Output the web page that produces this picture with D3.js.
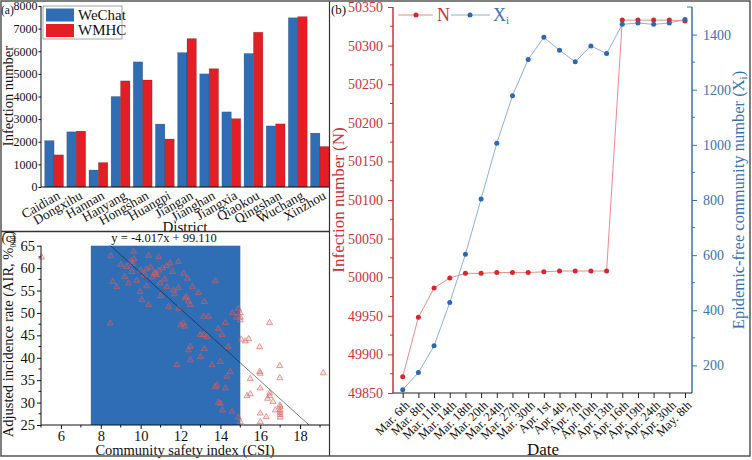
<!DOCTYPE html>
<html><head><meta charset="utf-8">
<script src="https://cdn.jsdelivr.net/npm/d3@7"></script>
<style>
body{margin:0;background:#fff}
svg{display:block}
text{font-family:"Liberation Serif","Times New Roman",serif}
</style>
</head><body>
<svg id="chart" width="752" height="460"></svg>
<script>
// ---------- DATA ----------
const districts = ["Caidian","Dongxihu","Hannan","Hanyang","Hongshan","Huangpi","Jiangan","Jianghan","Jiangxia","Qiaokou","Qingshan","Wuchang","Xinzhou"];
const wechat = [2050, 2440, 750, 4000, 5530, 2780, 5940, 5000, 3320, 5900, 2700, 7480, 2380];
const wmhc   = [1420, 2470, 1080, 4690, 4730, 2120, 6560, 5230, 3020, 6840, 2790, 7530, 1790];
const barTicks = [0,1000,2000,3000,4000,5000,6000,7000,8000];

const dates = ["Mar. 6th","Mar. 8th","Mar. 11th","Mar. 14th","Mar. 18th","Mar. 20th","Mar. 24th","Mar. 27th","Mar. 30th","Apr. 1st","Apr. 4th","Apr. 7th","Apr. 10th","Apr. 13th","Apr. 16th","Apr. 19th","Apr. 24th","Apr. 30th","May. 8th"];
const nValues  = [49871, 49948, 49986, 49999, 50005, 50005, 50006, 50006, 50006, 50007, 50008, 50008, 50008, 50008, 50333, 50333, 50333, 50333, 50332];
const xiValues = [112, 174, 271, 428, 603, 804, 1006, 1178, 1310, 1390, 1343, 1301, 1359, 1331, 1437, 1442, 1437, 1442, 1455];
const nTicks  = [49850,49900,49950,50000,50050,50100,50150,50200,50250,50300,50350];
const xiTicks = [200,400,600,800,1000,1200,1400];

const csi = [8.5,9.64,9.67,9.5,9.3,9.56,9.2,8.8,9.39,9.97,10.06,10.4,10.9,10.5,10.7,10.73,10.8,10.6,10.9,11.1,10.3,10.0,10.2,11.48,11.9,11.3,11.6,10.98,11.32,11.65,11.9,11.7,12.24,12.4,11.9,11.4,12.15,12.35,13.74,12.3,12.49,8.47,12.15,12.0,12.2,13.16,13.4,14.25,14.9,13.33,12.99,14.08,13.16,12.49,12.4,12.5,11.82,13.0,13.58,14.0,14.5,14.33,13.83,14.25,14.0,14.58,14.9,14.1,13.74,13.9,9.0,9.8,10.3,11.0,12.6,12.9,13.2,8.6,9.6,10.4,11.2,14.6,14.8,13.9,14.4,13.2,
  5.03,15.0,15.0,15.0,16.47,15.05,15.25,15.42,15.97,15.97,16.0,16.98,16.98,19.16,15.5,16.0,15.34,15.5,16.47,16.47,16.37,16.64,16.76,16.98,17.0,17.0,17.0,17.0,17.0,16.0,16.3,16.0,15.0];
const air = [62.7,63.7,62.0,61.5,60.3,59.2,58.1,55.8,56.6,54.7,52.9,51.8,62.5,60.2,59.0,58.8,58.5,58.0,59.5,60.0,59.8,59.5,58.5,61.1,61.4,60.5,59.2,56.6,55.8,55.1,55.6,54.2,53.3,52.6,51.0,51.4,58.8,57.7,57.1,53.6,51.8,47.7,47.7,47.3,47.0,49.2,49.2,47.8,51.0,44.7,45.1,45.1,45.1,42.5,41.7,39.5,38.4,40.2,38.4,39.1,36.9,35.8,33.9,33.2,29.8,28.0,26.7,28.3,33.5,30.0,60.8,57.2,56.0,53.8,55.8,54.5,52.5,57.0,61.0,62.8,57.5,50.0,49.0,46.5,42.5,42.0,
  62.4,48.4,50.0,49.0,47.8,44.1,43.7,44.2,42.4,36.9,36.5,38.2,35.5,36.6,35.3,33.2,31.5,31.9,32.1,31.5,30.9,30.2,28.3,29.4,29.0,28.3,27.8,27.3,26.7,27.6,26.8,25.7,25.7];
const cTicksX = [6,8,10,12,14,16,18];
const cTicksY = [25,30,35,40,45,50,55,60,65];
const safeRange = [7.5, 15];
const regSlope = -4.017, regIntercept = 99.110;

// ---------- STYLE ----------
const BLUE = "#2f6db5", RED = "#e31e24";
const NRED = "#d9262c", NLINE = "#ec8a8c", XBLUE = "#2e68ae", XLINE = "#8eb0d8";
const AXRED = "#c8333a", AXBLUE = "#3a72b0";
const svg = d3.select("#chart");
svg.append("rect").attr("width",752).attr("height",460).attr("fill","#fff");

function styleAxis(g, color, fs){
  g.selectAll("path.domain").remove();
  g.selectAll("line").attr("stroke", color).attr("stroke-width", 1);
  g.selectAll("text").attr("fill", color).attr("font-size", fs)
   .style("font-family", '"Liberation Serif","Times New Roman",serif');
}

// ---------- PANEL A ----------
const gA = svg.append("g");
const xA = d3.scaleBand().domain(districts).range([44,330]).paddingInner(0.15).paddingOuter(0.03);
const keys = ["WeChat","WMHC"];
const xA2 = d3.scaleBand().domain(keys).range([0, xA.bandwidth()]);
const yA = d3.scaleLinear().domain([0,8000]).range([187,6]);
const seriesA = [{k:"WeChat", v:wechat, c:BLUE},{k:"WMHC", v:wmhc, c:RED}];
seriesA.forEach(s=>{
  gA.append("g").selectAll("rect").data(districts).join("rect")
    .attr("x", d=>xA(d)+xA2(s.k)).attr("y",(d,i)=>yA(s.v[i]))
    .attr("width", xA2.bandwidth()).attr("height",(d,i)=>yA(0)-yA(s.v[i]))
    .attr("fill", s.c).attr("stroke","rgba(0,0,0,0.3)").attr("stroke-width",0.5);
});
const ayA = gA.append("g").attr("transform","translate(41,0)")
  .call(d3.axisLeft(yA).tickValues(barTicks).tickSize(2.5).tickPadding(1).tickFormat(d3.format("d")));
styleAxis(ayA, "#111", 12);
gA.append("line").attr("x1",41).attr("x2",41).attr("y1",yA(8000)).attr("y2",yA(0)).attr("stroke","#111");
gA.append("line").attr("x1",41).attr("x2",330).attr("y1",yA(0)).attr("y2",yA(0)).attr("stroke","#111");
const axA = gA.append("g").attr("transform",`translate(0,${yA(0)})`)
  .call(d3.axisBottom(xA).tickSize(0).tickPadding(0));
styleAxis(axA, "#111", 13.5);
axA.selectAll("text").attr("y",0).attr("dy",0).attr("text-anchor","end")
  .attr("transform","translate(7,11) rotate(-30)");
gA.append("text").attr("x",185).attr("y",232).attr("text-anchor","middle").attr("font-size",15).attr("fill","#111").text("District");
gA.append("text").attr("transform","translate(13,96) rotate(-90)").attr("text-anchor","middle").attr("font-size",14.5).attr("fill","#111").text("Infection number");
gA.append("text").attr("x",1).attr("y",14).attr("font-size",11.5).attr("fill","#111").text("(a)");
// legend
const lgA = gA.append("g");
lgA.append("rect").attr("x",43).attr("y",6).attr("width",79).attr("height",33).attr("fill","#fff").attr("stroke","#666").attr("stroke-width",0.6);
seriesA.forEach((s,i)=>{
  lgA.append("rect").attr("x",46).attr("y",8.5+i*15.5).attr("width",28).attr("height",13).attr("fill",s.c);
  lgA.append("text").attr("x",78).attr("y",19.5+i*15.5).attr("font-size",15).attr("fill","#111").text(s.k);
});

// ---------- PANEL C ----------
const gC = svg.append("g");
gC.append("rect").attr("x",0).attr("y",231).attr("width",330).attr("height",229).attr("fill","#fff");
const xC = d3.scaleLinear().domain([5,19.45]).range([41,329]);
const yC = d3.scaleLinear().domain([25,65]).range([425,245.7]);
gC.append("rect").attr("x",xC(safeRange[0])).attr("y",yC(65)).attr("width",xC(safeRange[1])-xC(safeRange[0])).attr("height",yC(25)-yC(65)).attr("fill","#2f6db5");
const tri = d3.symbol().type(d3.symbolTriangle).size(16);
gC.append("g").selectAll("path").data(csi).join("path")
  .attr("d", tri).attr("transform",(d,i)=>`translate(${xC(d)},${yC(air[i])})`)
  .attr("fill","rgba(226,96,96,0.18)").attr("stroke","rgba(222,92,92,0.75)").attr("stroke-width",0.8);
const x1r = (65-regIntercept)/regSlope, x2r = (25-regIntercept)/regSlope;
gC.append("line").attr("x1",xC(x1r)).attr("y1",yC(regSlope*x1r+regIntercept))
  .attr("x2",xC(x2r)).attr("y2",yC(regSlope*x2r+regIntercept))
  .attr("stroke","rgba(20,20,40,0.55)").attr("stroke-width",1);
const ayC = gC.append("g").attr("transform","translate(41,0)")
  .call(d3.axisLeft(yC).tickValues(cTicksY).tickSize(4).tickPadding(2));
styleAxis(ayC,"#111",14.5);
ayC.selectAll(".minor").data(d3.range(27.5,65,5)).join("line").attr("class","minor")
  .attr("x1",-2.5).attr("x2",0).attr("y1",d=>yC(d)).attr("y2",d=>yC(d)).attr("stroke","#111");
const axC = gC.append("g").attr("transform","translate(0,425)")
  .call(d3.axisBottom(xC).tickValues(cTicksX).tickSize(4).tickPadding(1.5));
styleAxis(axC,"#111",14.5);
axC.selectAll(".minor").data([5,7,9,11,13,15,17,19]).join("line").attr("class","minor")
  .attr("x1",d=>xC(d)).attr("x2",d=>xC(d)).attr("y1",0).attr("y2",2.5).attr("stroke","#111");
gC.append("line").attr("x1",41).attr("x2",41).attr("y1",yC(65)).attr("y2",425).attr("stroke","#111");
gC.append("line").attr("x1",41).attr("x2",329).attr("y1",425).attr("y2",425).attr("stroke","#111");
gC.append("text").attr("x",164).attr("y",242).attr("text-anchor","middle").attr("font-size",12.5).attr("fill","#111").text("y = -4.017x + 99.110");
gC.append("text").attr("x",185).attr("y",454.5).attr("text-anchor","middle").attr("font-size",14.5).attr("fill","#111").text("Community safety index (CSI)");
const ylC = gC.append("text").attr("transform","translate(13,334) rotate(-90)").attr("text-anchor","middle").attr("font-size",14.5).attr("fill","#111");
ylC.append("tspan").text("Adjusted incidence rate (AIR, %");
ylC.append("tspan").attr("font-size",8).attr("dy",3).text("000");
ylC.append("tspan").attr("dy",-3).text(")");
gC.append("text").attr("x",1.5).attr("y",242).attr("font-size",13).attr("fill","#111").text("(c)");

// ---------- PANEL B ----------
const gB = svg.append("g");
const xB = d3.scalePoint().domain(dates).range([402.7,685]);
const yN = d3.scaleLinear().domain([49850,50350]).range([393,7]);
const yX = d3.scaleLinear().domain([100,1500]).range([393,7]);
gB.append("path").datum(dates).attr("fill","none").attr("stroke",XLINE).attr("stroke-width",1)
  .attr("d", d3.line().x(d=>xB(d)).y((d,i)=>yX(xiValues[i])));
gB.append("path").datum(dates).attr("fill","none").attr("stroke",NLINE).attr("stroke-width",1)
  .attr("d", d3.line().x(d=>xB(d)).y((d,i)=>yN(nValues[i])));
gB.append("g").selectAll("circle").data(dates).join("circle")
  .attr("cx",d=>xB(d)).attr("cy",(d,i)=>yN(nValues[i])).attr("r",2.5).attr("fill",NRED);
gB.append("g").selectAll("circle").data(dates).join("circle")
  .attr("cx",d=>xB(d)).attr("cy",(d,i)=>yX(xiValues[i])).attr("r",2.5).attr("fill",XBLUE);
// left axis
const ayN = gB.append("g").attr("transform","translate(393,0)")
  .call(d3.axisLeft(yN).tickValues(nTicks).tickSize(5).tickPadding(5).tickFormat(d3.format("d")));
styleAxis(ayN, AXRED, 14);
ayN.selectAll(".minor").data(d3.range(49875,50350,50)).join("line").attr("class","minor")
  .attr("x1",-3).attr("x2",0).attr("y1",d=>yN(d)).attr("y2",d=>yN(d)).attr("stroke",AXRED);
gB.append("line").attr("x1",393).attr("x2",393).attr("y1",7).attr("y2",393).attr("stroke",AXRED).attr("stroke-width",1.5);
// right axis
const ayX = gB.append("g").attr("transform","translate(692,0)")
  .call(d3.axisRight(yX).tickValues(xiTicks).tickSize(5).tickPadding(6).tickFormat(d3.format("d")));
styleAxis(ayX, AXBLUE, 14);
ayX.selectAll(".minor").data(d3.range(300,1500,200)).join("line").attr("class","minor")
  .attr("x1",0).attr("x2",3).attr("y1",d=>yX(d)).attr("y2",d=>yX(d)).attr("stroke",AXBLUE);
gB.append("line").attr("x1",692).attr("x2",692).attr("y1",7).attr("y2",393).attr("stroke",AXBLUE).attr("stroke-width",1.5);
gB.append("line").attr("x1",687).attr("x2",692).attr("y1",7).attr("y2",7).attr("stroke",AXBLUE);
// bottom axis
const axB = gB.append("g").attr("transform","translate(0,393)")
  .call(d3.axisBottom(xB).tickSize(5).tickPadding(0));
styleAxis(axB, "#222", 12.5);
axB.selectAll("text").attr("y",0).attr("dy",0).attr("text-anchor","end").attr("fill","#111")
  .attr("transform","translate(7,13) rotate(-45)");
gB.append("line").attr("x1",393).attr("x2",692).attr("y1",393).attr("y2",393).attr("stroke","#222").attr("stroke-width",1.2);
gB.append("text").attr("x",543).attr("y",455).attr("text-anchor","middle").attr("font-size",17).attr("fill","#111").text("Date");
gB.append("text").attr("transform","translate(344,200) rotate(-90)").attr("text-anchor","middle").attr("font-size",17).attr("fill",AXRED).text("Infection number (N)");
const ylX = gB.append("text").attr("transform","translate(744,200) rotate(-90)").attr("text-anchor","middle").attr("font-size",16.5).attr("fill",AXBLUE);
ylX.append("tspan").text("Epidemic-free community number (X");
ylX.append("tspan").attr("font-size",11).attr("dy",3).text("i");
ylX.append("tspan").attr("dy",-3).text(")");
gB.append("text").attr("x",331).attr("y",14).attr("font-size",13).attr("fill","#111").text("(b)");
// legend
const lgB = gB.append("g");
lgB.append("line").attr("x1",398).attr("x2",433).attr("y1",15).attr("y2",15).attr("stroke",NLINE);
lgB.append("circle").attr("cx",416).attr("cy",15).attr("r",2.5).attr("fill",NRED);
lgB.append("text").attr("x",437).attr("y",21).attr("font-size",18).attr("fill",AXRED).text("N");
lgB.append("line").attr("x1",451).attr("x2",490).attr("y1",15).attr("y2",15).attr("stroke",XLINE);
lgB.append("circle").attr("cx",470).attr("cy",15).attr("r",2.5).attr("fill",XBLUE);
const lx = lgB.append("text").attr("x",493).attr("y",21).attr("font-size",18).attr("fill",AXBLUE);
lx.append("tspan").text("X");
lx.append("tspan").attr("font-size",11).attr("dy",3).text("i");

// ---------- FRAME ----------
svg.append("line").attr("x1",1).attr("x2",330).attr("y1",231.5).attr("y2",231.5).attr("stroke","#333").attr("stroke-width",1.5);
svg.append("line").attr("x1",329.5).attr("x2",329.5).attr("y1",1).attr("y2",456).attr("stroke","#333").attr("stroke-width",1.2);
svg.append("rect").attr("x",1).attr("y",1).attr("width",749).attr("height",455).attr("fill","none").attr("stroke","#555").attr("stroke-width",1.5);
</script>
</body></html>
